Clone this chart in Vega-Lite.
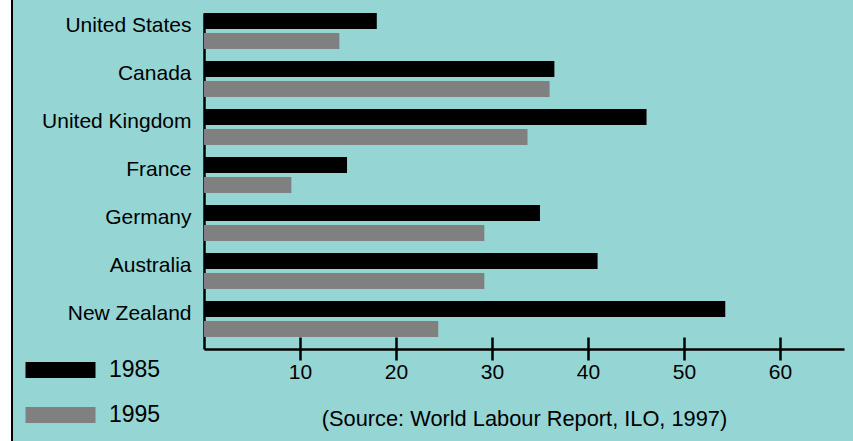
{
  "$schema": "https://vega.github.io/schema/vega-lite/v6.json",
  "background": "#95d5d4",
  "padding": {"left": 0, "top": 0, "right": 9, "bottom": 0},
  "config": {
    "font": "Liberation Sans",
    "view": {"stroke": null},
    "axis": {"labelColor": "black", "titleColor": "black", "domainColor": "black", "tickColor": "black", "grid": false}
  },
  "resolve": {"legend": {"color": "independent"}},
  "spacing": 28,
  "hconcat": [
    {
      "spacing": 0,
      "hconcat": [
        {"width": 11, "height": 441, "view": {"fill": "white", "stroke": null}, "data": {"values": []}, "mark": "point"},
        {"width": 2, "height": 441, "view": {"fill": "black", "stroke": null}, "data": {"values": []}, "mark": "point"}
      ]
    },
    {
      "spacing": 12,
      "resolve": {"legend": {"color": "independent"}},
      "vconcat": [
        {"width": 1, "height": 1, "view": {"stroke": null}, "data": {"values": []}, "mark": "point"},
        {
          "width": 640,
          "height": 336,
          "data": {
            "values": [
              {"country": "United States", "year": "1985", "value": 18.0},
              {"country": "United States", "year": "1995", "value": 14.1},
              {"country": "Canada", "year": "1985", "value": 36.5},
              {"country": "Canada", "year": "1995", "value": 36.0},
              {"country": "United Kingdom", "year": "1985", "value": 46.1},
              {"country": "United Kingdom", "year": "1995", "value": 33.7},
              {"country": "France", "year": "1985", "value": 14.9},
              {"country": "France", "year": "1995", "value": 9.1},
              {"country": "Germany", "year": "1985", "value": 35.0},
              {"country": "Germany", "year": "1995", "value": 29.2},
              {"country": "Australia", "year": "1985", "value": 41.0},
              {"country": "Australia", "year": "1995", "value": 29.2},
              {"country": "New Zealand", "year": "1985", "value": 54.3},
              {"country": "New Zealand", "year": "1995", "value": 24.4}
            ]
          },
          "resolve": {"axis": {"x": "independent"}},
          "layer": [
            {
              "mark": {"type": "bar"},
              "encoding": {
                "y": {
                  "field": "country",
                  "type": "nominal",
                  "sort": ["United States", "Canada", "United Kingdom", "France", "Germany", "Australia", "New Zealand"],
                  "scale": {"paddingInner": 0.25, "paddingOuter": 0.125, "align": 0},
                  "axis": {"title": null, "ticks": false, "domainWidth": 2.5, "labelFontSize": 21, "labelPadding": 13, "labelOffset": -5}
                },
                "yOffset": {"field": "year", "type": "nominal", "scale": {"paddingInner": 0.2, "paddingOuter": 0}},
                "x": {
                  "field": "value",
                  "type": "quantitative",
                  "scale": {"domain": [0, 66.67], "nice": false},
                  "axis": {
                    "orient": "bottom",
                    "values": [10, 20, 30, 40, 50, 60],
                    "tickSize": 11,
                    "tickWidth": 2.5,
                    "domainWidth": 2.5,
                    "labelFontSize": 21,
                    "labelPadding": 1,
                    "title": "(Source: World Labour Report, ILO, 1997)",
                    "titleFontSize": 21.8,
                    "titleFontWeight": "normal",
                    "titlePadding": 26
                  }
                },
                "color": {
                  "field": "year",
                  "type": "nominal",
                  "scale": {"domain": ["1985", "1995"], "range": ["#000000", "#808080"]},
                  "legend": {
                    "title": null,
                    "orient": "none",
                    "legendX": -155,
                    "legendY": 345.5,
                    "symbolType": "M-4.375,-1H4.375V1H-4.375Z",
                    "symbolSize": 256,
                    "symbolStrokeWidth": 0,
                    "symbolOpacity": 1,
                    "labelFontSize": 23,
                    "labelColor": "black",
                    "labelOffset": 37,
                    "rowPadding": 21
                  }
                }
              }
            },
            {
              "mark": {"type": "point", "opacity": 0},
              "encoding": {
                "x": {
                  "field": "value",
                  "type": "quantitative",
                  "axis": {
                    "orient": "bottom",
                    "offset": -12,
                    "values": [10, 20, 30, 40, 50, 60],
                    "domain": false,
                    "labels": false,
                    "tickSize": 12,
                    "tickWidth": 2.5,
                    "title": null
                  }
                }
              }
            }
          ]
        }
      ]
    }
  ]
}
